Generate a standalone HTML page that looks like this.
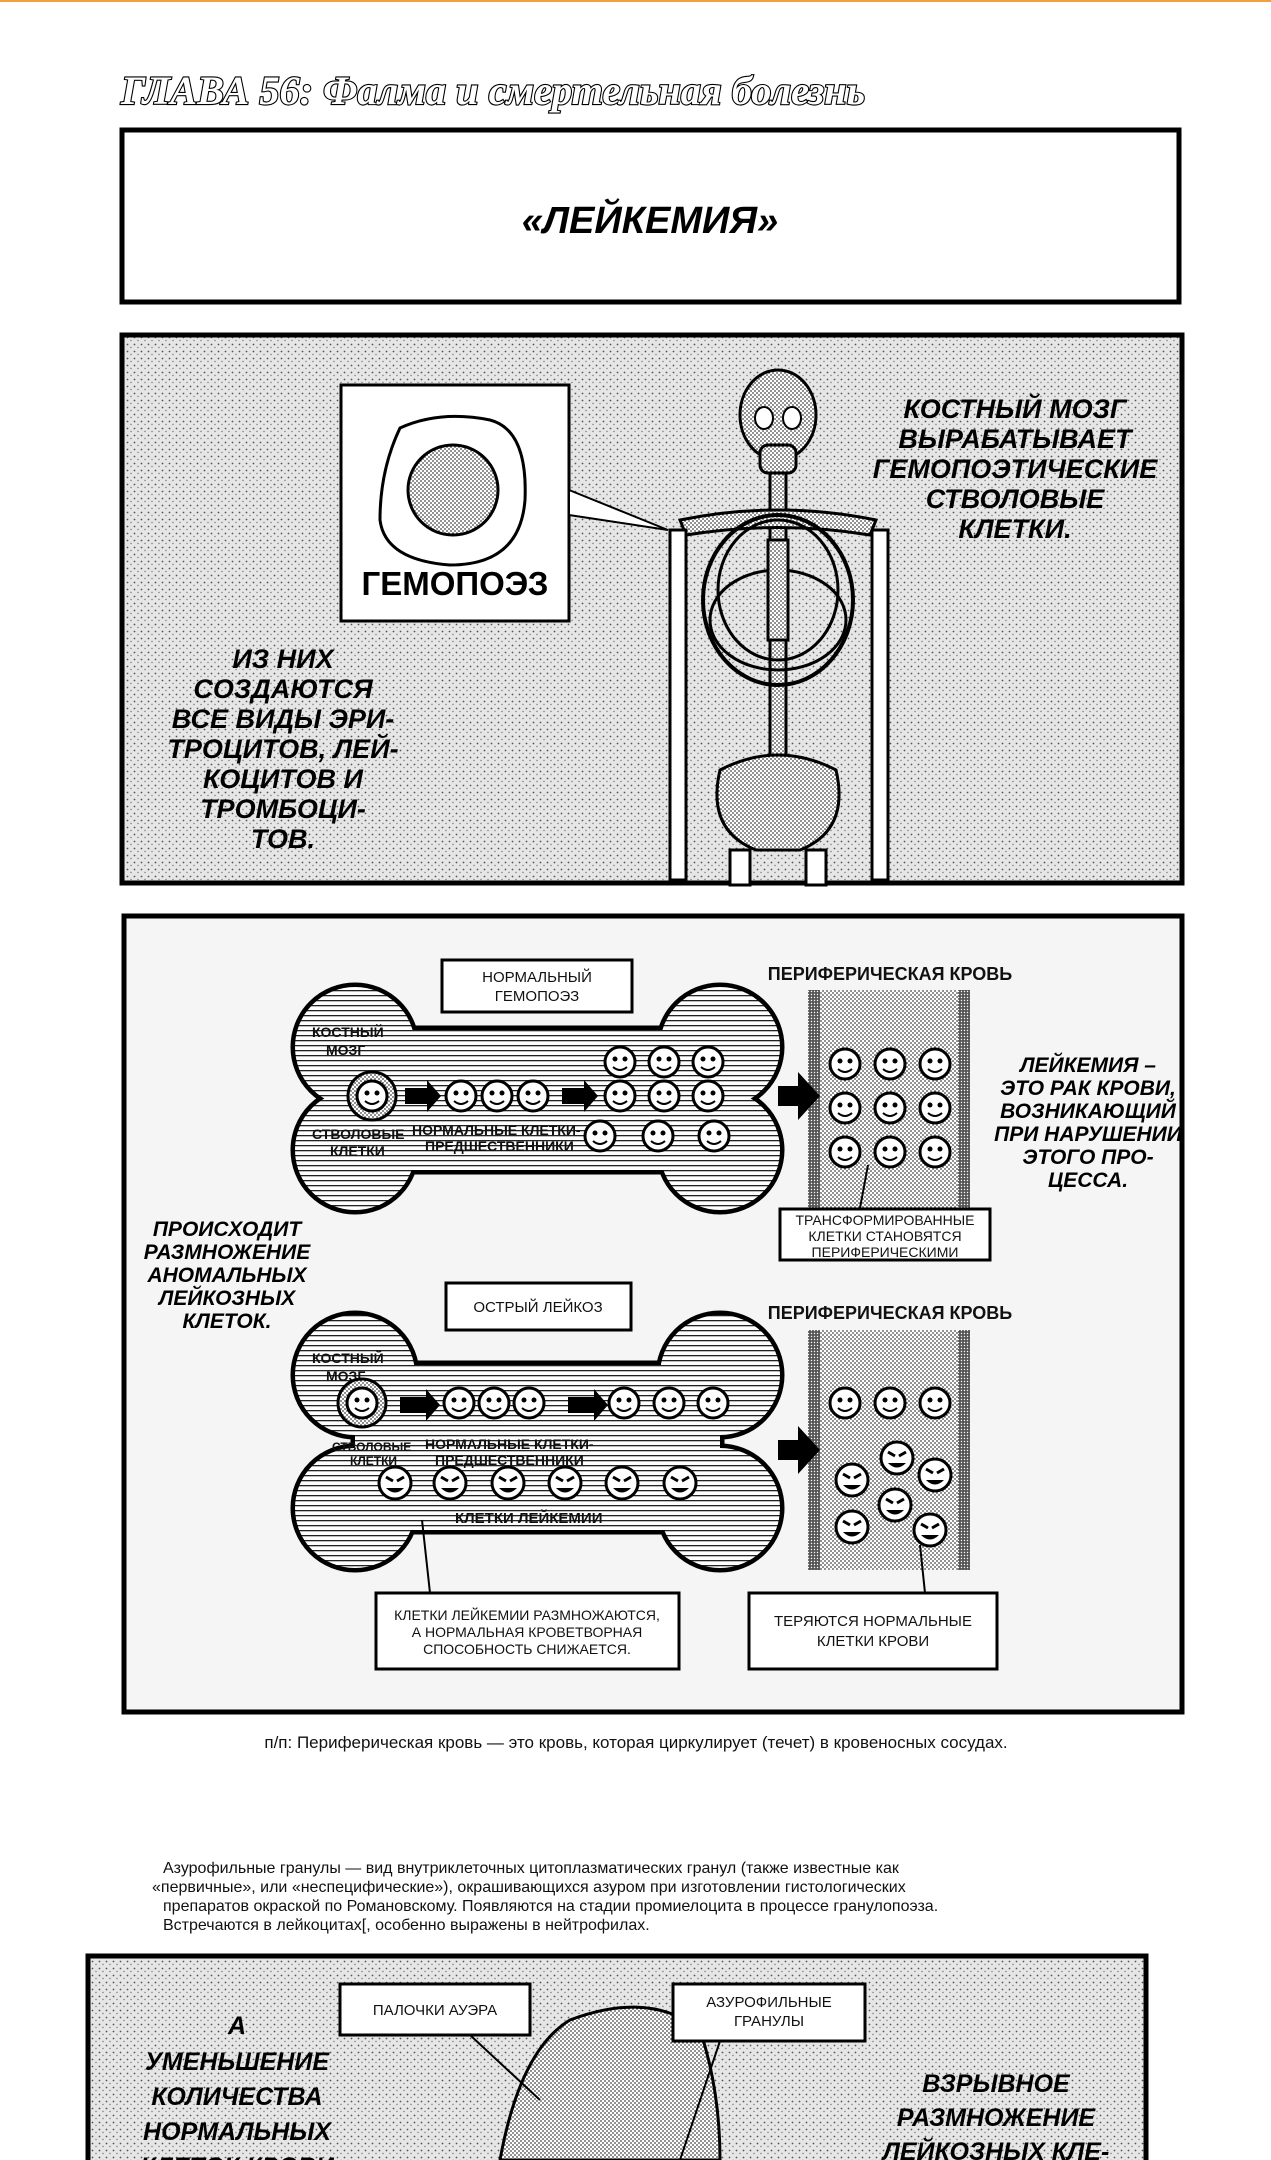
<!DOCTYPE html>
<html><head><meta charset="utf-8"><style>
html,body{margin:0;padding:0;background:#fff}
svg{display:block}
.t{font-family:"Liberation Sans","DejaVu Sans",sans-serif;font-weight:bold;fill:#000}
.n{font-family:"Liberation Sans","DejaVu Sans",sans-serif;fill:#111}
</style></head><body>
<svg width="1271" height="2160" viewBox="0 0 1271 2160" xmlns="http://www.w3.org/2000/svg">
<defs>
<pattern id="stip" width="7" height="7" patternUnits="userSpaceOnUse">
<rect width="7" height="7" fill="#e6e6e6"/>
<circle cx="1.5" cy="1.5" r="0.9" fill="#555"/><circle cx="5" cy="4.5" r="0.7" fill="#777"/>
</pattern>
<pattern id="fine" width="4" height="4" patternUnits="userSpaceOnUse">
<rect width="4" height="4" fill="#fff"/><circle cx="1" cy="1" r="0.9" fill="#444"/><circle cx="3" cy="3" r="0.9" fill="#444"/>
</pattern>
<pattern id="dark" width="3" height="3" patternUnits="userSpaceOnUse">
<rect width="3" height="3" fill="#555"/><circle cx="1.5" cy="1.5" r="0.7" fill="#fff"/>
</pattern>
<pattern id="hatch" width="6" height="5" patternUnits="userSpaceOnUse">
<rect width="6" height="5" fill="#fff"/><rect y="0" width="6" height="1.3" fill="#222"/>
</pattern>
<g id="face">
<circle r="15" fill="#fff" stroke="#000" stroke-width="3"/>
<circle cx="-5" cy="-3" r="2.5"/><circle cx="5" cy="-3" r="2.5"/>
<path d="M-7 5 Q0 11 7 5" fill="none" stroke="#000" stroke-width="2"/>
</g>
<g id="bad">
<circle r="16" fill="#fff" stroke="#000" stroke-width="3"/>
<path d="M-9 -6 L-2 -2 M9 -6 L2 -2" stroke="#000" stroke-width="3"/>
<path d="M-9 5 Q0 14 9 5 Z" fill="#000"/>
</g>
<g id="bonesh">
<circle cx="355" cy="0" r="60"/><circle cx="355" cy="H" r="60"/>
</g>
</defs>

<rect x="0" y="0" width="1271" height="2" fill="#f0a040"/>

<text x="121" y="104" font-family="Liberation Serif,serif" font-style="italic" font-weight="bold" font-size="40" fill="#fff" stroke="#000" stroke-width="2.2" paint-order="stroke" textLength="744" lengthAdjust="spacingAndGlyphs">ГЛАВА 56:  Фалма и смертельная болезнь</text>

<rect x="122" y="130" width="1057" height="172" fill="#fff" stroke="#000" stroke-width="5"/>
<text class="t" x="650" y="233" font-size="38" text-anchor="middle" font-style="italic">«ЛЕЙКЕМИЯ»</text>

<!-- panel 2 -->
<rect x="122" y="335" width="1060" height="548" fill="url(#stip)" stroke="#000" stroke-width="5"/>
<rect x="341" y="385" width="228" height="236" fill="#fff" stroke="#000" stroke-width="3"/>
<path d="M400 428 Q380 470 380 520 Q385 560 450 565 Q520 565 525 500 Q528 430 490 420 Q440 410 400 428Z" fill="#fff" stroke="#000" stroke-width="3"/>
<circle cx="453" cy="490" r="45" fill="url(#fine)" stroke="#000" stroke-width="3"/>
<text class="t" x="455" y="595" font-size="33" text-anchor="middle" font-weight="normal">ГЕМОПОЭЗ</text>
<path d="M569 490 L668 530 L569 515 Z" fill="#fff" stroke="#000" stroke-width="2"/>
<g stroke="#000" stroke-width="3" fill="url(#fine)">
<ellipse cx="778" cy="415" rx="38" ry="45"/>
<rect x="760" y="445" width="36" height="28" rx="8"/>
<rect x="770" y="473" width="16" height="300"/>
<path d="M680 520 Q778 500 876 520 L870 535 Q778 520 686 535Z"/>
<ellipse cx="778" cy="600" rx="75" ry="85" fill="none" stroke-width="4"/>
<ellipse cx="778" cy="590" rx="60" ry="70" fill="none"/>
<ellipse cx="778" cy="620" rx="68" ry="50" fill="none"/>
<rect x="768" y="540" width="20" height="100"/>
<path d="M720 770 Q778 740 836 770 Q850 830 800 850 L756 850 Q706 830 720 770Z"/>
<rect x="670" y="530" width="16" height="350" fill="#fff"/>
<rect x="872" y="530" width="16" height="350" fill="#fff"/>
<rect x="730" y="850" width="20" height="35" fill="#fff"/>
<rect x="806" y="850" width="20" height="35" fill="#fff"/>
</g>
<ellipse cx="764" cy="418" rx="9" ry="11" fill="#fff" stroke="#000" stroke-width="2"/>
<ellipse cx="792" cy="418" rx="9" ry="11" fill="#fff" stroke="#000" stroke-width="2"/>
<g class="t" font-size="27" text-anchor="middle" font-style="italic">
<text x="1015" y="418">КОСТНЫЙ МОЗГ</text>
<text x="1015" y="448">ВЫРАБАТЫВАЕТ</text>
<text x="1015" y="478">ГЕМОПОЭТИЧЕСКИЕ</text>
<text x="1015" y="508">СТВОЛОВЫЕ</text>
<text x="1015" y="538">КЛЕТКИ.</text>
<text x="283" y="668">ИЗ НИХ</text>
<text x="283" y="698">СОЗДАЮТСЯ</text>
<text x="283" y="728">ВСЕ ВИДЫ ЭРИ-</text>
<text x="283" y="758">ТРОЦИТОВ, ЛЕЙ-</text>
<text x="283" y="788">КОЦИТОВ И</text>
<text x="283" y="818">ТРОМБОЦИ-</text>
<text x="283" y="848">ТОВ.</text>
</g>

<!-- panel 3 -->
<rect x="124" y="916" width="1058" height="796" fill="#f5f5f5" stroke="#000" stroke-width="5"/>

<!-- bone 1 -->
<g stroke="#000" stroke-width="9" fill="#000">
<circle cx="355" cy="1047" r="60"/><circle cx="355" cy="1150" r="60"/>
<circle cx="720" cy="1047" r="60"/><circle cx="720" cy="1150" r="60"/>
<rect x="355" y="1030" width="365" height="140"/>
</g>
<g fill="url(#hatch)">
<circle cx="355" cy="1047" r="60"/><circle cx="355" cy="1150" r="60"/>
<circle cx="720" cy="1047" r="60"/><circle cx="720" cy="1150" r="60"/>
<rect x="355" y="1030" width="365" height="140"/>
</g>
<!-- bone 2 -->
<g stroke="#000" stroke-width="9" fill="#000">
<circle cx="355" cy="1375" r="60"/><circle cx="355" cy="1508" r="60"/>
<circle cx="720" cy="1375" r="60"/><circle cx="720" cy="1508" r="60"/>
<rect x="355" y="1365" width="365" height="165"/>
</g>
<g fill="url(#hatch)">
<circle cx="355" cy="1375" r="60"/><circle cx="355" cy="1508" r="60"/>
<circle cx="720" cy="1375" r="60"/><circle cx="720" cy="1508" r="60"/>
<rect x="355" y="1365" width="365" height="165"/>
</g>

<!-- vessels -->
<rect x="808" y="990" width="162" height="222" fill="url(#fine)"/>
<rect x="808" y="990" width="12" height="222" fill="url(#dark)"/><rect x="958" y="990" width="12" height="222" fill="url(#dark)"/>
<rect x="808" y="1330" width="162" height="240" fill="url(#fine)"/>
<rect x="808" y="1330" width="12" height="240" fill="url(#dark)"/><rect x="958" y="1330" width="12" height="240" fill="url(#dark)"/>

<rect x="442" y="960" width="190" height="52" fill="#fff" stroke="#000" stroke-width="3"/>
<text class="n" x="537" y="982" font-size="15" text-anchor="middle">НОРМАЛЬНЫЙ</text>
<text class="n" x="537" y="1001" font-size="15" text-anchor="middle">ГЕМОПОЭЗ</text>
<text class="n" x="890" y="980" font-size="18" text-anchor="middle" font-weight="bold">ПЕРИФЕРИЧЕСКАЯ КРОВЬ</text>
<rect x="446" y="1283" width="185" height="47" fill="#fff" stroke="#000" stroke-width="3"/>
<text class="n" x="538" y="1312" font-size="15" text-anchor="middle">ОСТРЫЙ ЛЕЙКОЗ</text>
<text class="n" x="890" y="1319" font-size="18" text-anchor="middle" font-weight="bold">ПЕРИФЕРИЧЕСКАЯ КРОВЬ</text>

<g class="n" font-size="14" font-weight="bold">
<text x="312" y="1037">КОСТНЫЙ</text><text x="326" y="1055">МОЗГ</text>
<text x="312" y="1139">СТВОЛОВЫЕ</text><text x="330" y="1156">КЛЕТКИ</text>
<text x="412" y="1135">НОРМАЛЬНЫЕ КЛЕТКИ-</text><text x="425" y="1151">ПРЕДШЕСТВЕННИКИ</text>
<text x="312" y="1363">КОСТНЫЙ</text><text x="326" y="1381">МОЗГ</text>
<text x="332" y="1451" font-size="12">СТВОЛОВЫЕ</text><text x="350" y="1465" font-size="12">КЛЕТКИ</text>
<text x="425" y="1449">НОРМАЛЬНЫЕ КЛЕТКИ-</text><text x="435" y="1465">ПРЕДШЕСТВЕННИКИ</text>
<text x="455" y="1523" font-size="15">КЛЕТКИ ЛЕЙКЕМИИ</text>
</g>

<!-- cells bone 1 -->
<circle cx="372" cy="1096" r="24" fill="url(#fine)" stroke="#000" stroke-width="3"/>
<use href="#face" x="372" y="1096"/>
<path d="M405 1088 h22 v-8 l14 16 l-14 16 v-8 h-22z"/>
<use href="#face" x="461" y="1096"/><use href="#face" x="497" y="1096"/><use href="#face" x="533" y="1096"/>
<path d="M562 1088 h22 v-8 l14 16 l-14 16 v-8 h-22z"/>
<use href="#face" x="620" y="1062"/><use href="#face" x="664" y="1062"/><use href="#face" x="708" y="1062"/>
<use href="#face" x="620" y="1096"/><use href="#face" x="664" y="1096"/><use href="#face" x="708" y="1096"/>
<use href="#face" x="600" y="1136"/><use href="#face" x="658" y="1136"/><use href="#face" x="714" y="1136"/>
<path d="M778 1086 h20 v-14 l22 24 l-22 24 v-14 h-20z"/>
<use href="#face" x="845" y="1064"/><use href="#face" x="890" y="1064"/><use href="#face" x="935" y="1064"/>
<use href="#face" x="845" y="1108"/><use href="#face" x="890" y="1108"/><use href="#face" x="935" y="1108"/>
<use href="#face" x="845" y="1152"/><use href="#face" x="890" y="1152"/><use href="#face" x="935" y="1152"/>
<!-- cells bone 2 -->
<circle cx="362" cy="1403" r="24" fill="url(#fine)" stroke="#000" stroke-width="3"/>
<use href="#face" x="362" y="1403"/>
<path d="M400 1397 h26 v-8 l14 16 l-14 16 v-8 h-26z"/>
<use href="#face" x="459" y="1403"/><use href="#face" x="494" y="1403"/><use href="#face" x="529" y="1403"/>
<path d="M568 1397 h26 v-8 l14 16 l-14 16 v-8 h-26z"/>
<use href="#face" x="624" y="1403"/><use href="#face" x="669" y="1403"/><use href="#face" x="713" y="1403"/>
<use href="#bad" x="395" y="1483"/><use href="#bad" x="450" y="1483"/><use href="#bad" x="508" y="1483"/>
<use href="#bad" x="565" y="1483"/><use href="#bad" x="622" y="1483"/><use href="#bad" x="680" y="1483"/>
<path d="M778 1440 h20 v-14 l22 24 l-22 24 v-14 h-20z"/>
<use href="#face" x="845" y="1403"/><use href="#face" x="890" y="1403"/><use href="#face" x="935" y="1403"/>
<use href="#bad" x="852" y="1480"/><use href="#bad" x="897" y="1458"/><use href="#bad" x="935" y="1475"/>
<use href="#bad" x="852" y="1527"/><use href="#bad" x="895" y="1505"/><use href="#bad" x="930" y="1530"/>

<path d="M868 1165 L860 1208 M920 1545 L925 1593 M422 1520 L430 1593" stroke="#000" stroke-width="2" fill="none"/>
<rect x="780" y="1209" width="210" height="51" fill="#fff" stroke="#000" stroke-width="3"/>
<g class="n" font-size="14" text-anchor="middle">
<text x="885" y="1225">ТРАНСФОРМИРОВАННЫЕ</text><text x="885" y="1241">КЛЕТКИ СТАНОВЯТСЯ</text><text x="885" y="1257">ПЕРИФЕРИЧЕСКИМИ</text>
</g>
<rect x="376" y="1593" width="303" height="76" fill="#fff" stroke="#000" stroke-width="3"/>
<g class="n" font-size="14" text-anchor="middle">
<text x="527" y="1620">КЛЕТКИ ЛЕЙКЕМИИ РАЗМНОЖАЮТСЯ,</text><text x="527" y="1637">А НОРМАЛЬНАЯ КРОВЕТВОРНАЯ</text><text x="527" y="1654">СПОСОБНОСТЬ СНИЖАЕТСЯ.</text>
</g>
<rect x="749" y="1593" width="248" height="76" fill="#fff" stroke="#000" stroke-width="3"/>
<g class="n" font-size="15" text-anchor="middle">
<text x="873" y="1626">ТЕРЯЮТСЯ НОРМАЛЬНЫЕ</text><text x="873" y="1646">КЛЕТКИ КРОВИ</text>
</g>
<g class="t" font-size="21" text-anchor="middle" font-style="italic">
<text x="1088" y="1072">ЛЕЙКЕМИЯ –</text><text x="1088" y="1095">ЭТО РАК КРОВИ,</text><text x="1088" y="1118">ВОЗНИКАЮЩИЙ</text>
<text x="1088" y="1141">ПРИ НАРУШЕНИИ</text><text x="1088" y="1164">ЭТОГО ПРО-</text><text x="1088" y="1187">ЦЕССА.</text>
<text x="227" y="1236">ПРОИСХОДИТ</text><text x="227" y="1259">РАЗМНОЖЕНИЕ</text><text x="227" y="1282">АНОМАЛЬНЫХ</text>
<text x="227" y="1305">ЛЕЙКОЗНЫХ</text><text x="227" y="1328">КЛЕТОК.</text>
</g>

<text class="n" x="636" y="1748" font-size="17" text-anchor="middle">п/п: Периферическая кровь — это кровь, которая циркулирует (течет) в кровеносных сосудах.</text>

<g class="n" font-size="16">
<text x="163" y="1873">Азурофильные гранулы — вид внутриклеточных цитоплазматических гранул (также известные как</text>
<text x="152" y="1892">«первичные», или «неспецифические»), окрашивающихся азуром при изготовлении гистологических</text>
<text x="163" y="1911">препаратов окраской по Романовскому. Появляются на стадии промиелоцита в процессе гранулопоэза.</text>
<text x="163" y="1930">Встречаются в лейкоцитах[, особенно выражены в нейтрофилах.</text>
</g>

<rect x="88" y="1956" width="1058" height="220" fill="url(#stip)" stroke="#000" stroke-width="5"/>
<path d="M500 2160 Q520 2050 570 2020 Q650 1990 700 2030 Q720 2090 720 2160Z" fill="url(#fine)" stroke="#000" stroke-width="3"/>
<path d="M470 2035 L540 2100 M720 2041 L680 2160" stroke="#000" stroke-width="2"/>
<rect x="340" y="1984" width="190" height="51" fill="#fff" stroke="#000" stroke-width="3"/>
<text class="n" x="435" y="2015" font-size="15" text-anchor="middle">ПАЛОЧКИ АУЭРА</text>
<rect x="673" y="1984" width="192" height="57" fill="#fff" stroke="#000" stroke-width="3"/>
<text class="n" x="769" y="2007" font-size="15" text-anchor="middle">АЗУРОФИЛЬНЫЕ</text>
<text class="n" x="769" y="2026" font-size="15" text-anchor="middle">ГРАНУЛЫ</text>
<g class="t" font-size="25" text-anchor="middle" font-style="italic">
<text x="237" y="2034">А</text><text x="237" y="2070">УМЕНЬШЕНИЕ</text><text x="237" y="2105">КОЛИЧЕСТВА</text>
<text x="237" y="2140">НОРМАЛЬНЫХ</text><text x="237" y="2175">КЛЕТОК КРОВИ</text>
<text x="996" y="2092">ВЗРЫВНОЕ</text><text x="996" y="2126">РАЗМНОЖЕНИЕ</text><text x="996" y="2160">ЛЕЙКОЗНЫХ КЛЕ-</text>
</g>
</svg>
</body></html>
